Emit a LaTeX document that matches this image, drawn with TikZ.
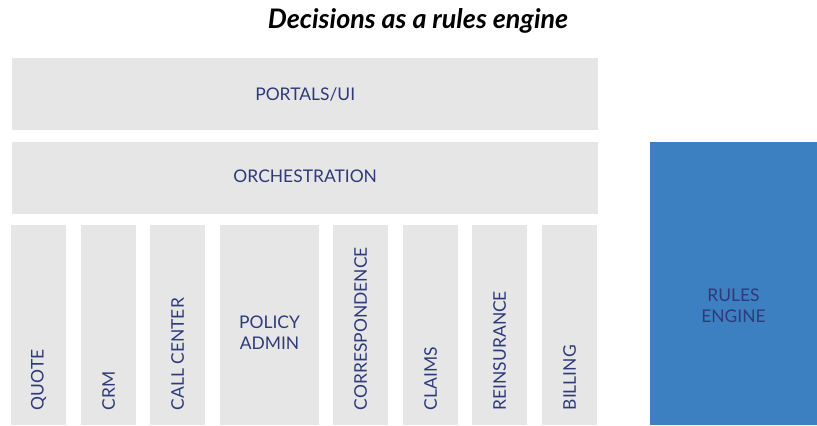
\documentclass[tikz,border=0pt]{standalone}
\usepackage{fontspec}
\setmainfont{Lato}
\definecolor{panel}{HTML}{E6E6E6}
\definecolor{ink}{HTML}{2E3A7A}
\definecolor{engine}{HTML}{3C80C2}
\begin{document}
\begin{tikzpicture}[x=1bp,y=-1bp,
  panelbox/.style={fill=panel, draw=none, inner sep=0pt, anchor=north west},
  label/.style={text=ink, font=\fontsize{17.5}{21}\selectfont, align=center},
  vlabel/.style={text=ink, font=\fontsize{17.5}{21}\selectfont, rotate=90, anchor=west, inner sep=0pt},
  title/.style={font=\fontsize{27}{31}\selectfont\bfseries\itshape, text=black}]
\useasboundingbox (0,0) rectangle (817,425);

\node[title] (title) at (418,21) {Decisions as a rules engine};

% horizontal layers
\node[panelbox, minimum width=586bp, minimum height=72bp] (portals) at (12,58) {};
\node[label] at (portals.center) {PORTALS/UI};
\node[panelbox, minimum width=586bp, minimum height=72bp] (orch) at (12,142) {};
\node[label] at ([yshift=2bp]orch.center) {ORCHESTRATION};

% system columns
\foreach \name/\x/\w/\txt in {quote/11/55/QUOTE, crm/81/55/CRM, call/150/55/CALL CENTER,
  corr/333/55/CORRESPONDENCE, claims/403/55/CLAIMS, reins/472/55/REINSURANCE, billing/542/55/BILLING}{
  \node[panelbox, minimum width=\w bp, minimum height=200bp] (\name) at (\x,225) {};
  \node[vlabel] (\name-text) at ([yshift=15bp]\name.south) {\txt};
}
\node[panelbox, minimum width=99bp, minimum height=200bp] (policy) at (220,225) {};
\node[label] (policy-text) at (269.5,333) {POLICY\\ADMIN};

% rules engine
\node[panelbox, fill=engine, minimum width=167bp, minimum height=283bp] (rules) at (650,142) {};
\node[label] (rules-text) at (733.5,306) {RULES\\ENGINE};
\end{tikzpicture}
\end{document}
